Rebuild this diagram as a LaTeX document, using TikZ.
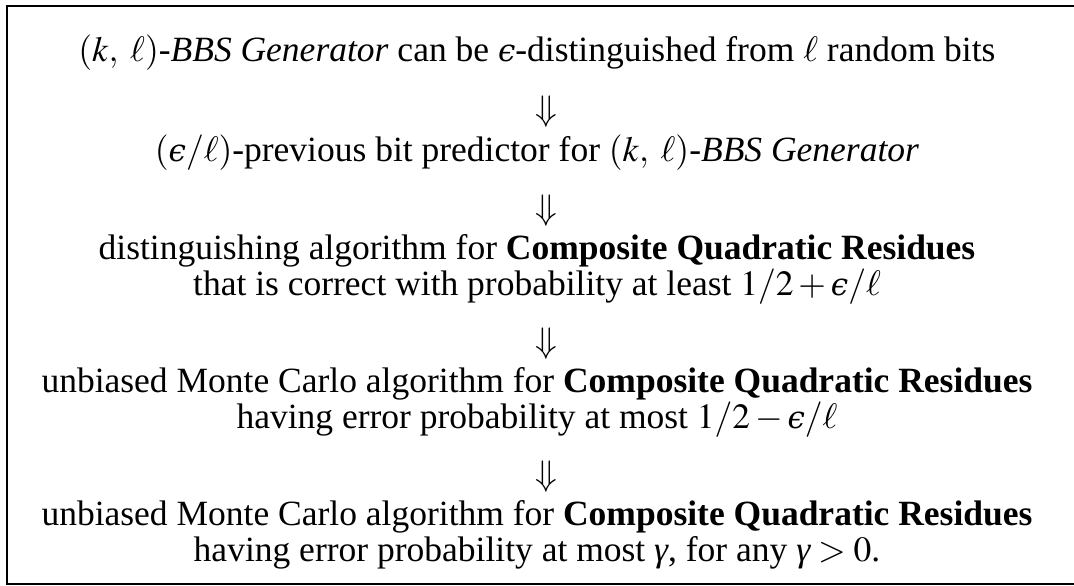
\documentclass[tikz,border=0pt]{standalone}
\usepackage{mathptmx}
\usepackage{fontspec}
\setmainfont{Liberation Serif}
\newfontfamily\dvserif{DejaVu Serif}
\newcommand\leps{\mbox{\dvserif\itshape\fontsize{31}{36}\selectfont ϵ}}
\newcommand\lgam{\mbox{\itshape γ}}
\begin{document}
\begin{tikzpicture}[x=1pt,y=-1pt,
  txt/.style={inner sep=0pt, anchor=base, font=\fontsize{35.5}{36}\selectfont},
  arr/.style={inner sep=0pt, anchor=base, font=\fontsize{35.5}{36}\selectfont},
  frame/.style={line width=2.2pt, black}]
\useasboundingbox (0,0) rectangle (1074,586);
\draw[frame] (1074,6) -- (7,6) -- (7,584) -- (1074,584);
\node[txt] (l1) at (537,62) {$(k,\;\ell)$-\textit{BBS Generator} can be $\leps$-distinguished from $\ell$ random bits};
\node[arr] (a1) at (546,120) {$\Downarrow$};
\node[txt] (l2) at (537,161) {$(\leps/\ell)$-previous bit predictor for $(k,\;\ell)$-\textit{BBS Generator}};
\node[arr] (a2) at (546,219) {$\Downarrow$};
\node[txt] (l3) at (537,259) {distinguishing algorithm for \textbf{Composite Quadratic Residues}};
\node[txt] (l4) at (537,295) {that is correct with probability at least $1/2+\leps/\ell$};
\node[arr] (a3) at (546,352) {$\Downarrow$};
\node[txt] (l5) at (537,392) {unbiased Monte Carlo algorithm for \textbf{Composite Quadratic Residues}};
\node[txt] (l6) at (537,428) {having error probability at most $1/2-\leps/\ell$};
\node[arr] (a4) at (546,485) {$\Downarrow$};
\node[txt] (l7) at (537,525) {unbiased Monte Carlo algorithm for \textbf{Composite Quadratic Residues}};
\node[txt] (l8) at (537,561) {having error probability at most $\lgam$, for any $\lgam>0$.};
\end{tikzpicture}
\end{document}
